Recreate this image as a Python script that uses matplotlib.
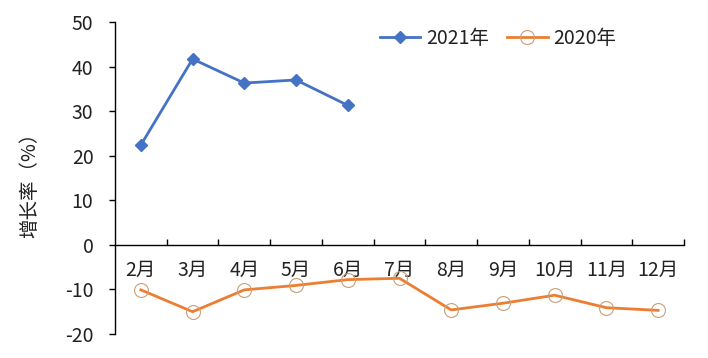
import matplotlib
matplotlib.use("Agg")
import matplotlib.pyplot as plt
import numpy as np

plt.rcParams['font.family'] = ['Noto Sans CJK SC', 'DejaVu Sans']

months = ['2月', '3月', '4月', '5月', '6月', '7月', '8月', '9月', '10月', '11月', '12月']
growth_2021 = [22.4, 41.7, 36.3, 37.0, 31.3]
growth_2020 = [-10.1, -15.0, -10.1, -9.1, -7.8, -7.5, -14.6, -13.1, -11.3, -14.1, -14.7]
yticks = [-20, -10, 0, 10, 20, 30, 40, 50]
ytick_labels = ['-20', '-10', '0', '10', '20', '30', '40', '50']
series_labels = ['2021年', '2020年']
ylabel = '增长率（%）'

blue = '#4472C4'
orange = '#ED7D31'
fs = 14
tc = '#222222'

fig = plt.figure(figsize=(7.08, 3.58), dpi=100)
W, H = 708, 358
ax = fig.add_axes([115 / W, 1 - 334 / H, (684 - 115) / W, (334 - 22) / H])

x = np.arange(len(months))
ax.plot(x[:len(growth_2021)], growth_2021, color=blue, lw=2.0, marker='D',
        markersize=6.5, markerfacecolor=blue, markeredgecolor=blue,
        label=series_labels[0], zorder=3)
ax.plot(x, growth_2020, color=orange, lw=2.0, marker='o', markersize=10,
        markerfacecolor='none', markeredgecolor='#C8A07A', markeredgewidth=0.8,
        label=series_labels[1], zorder=3)

ax.set_xlim(-0.5, len(months) - 0.5)
ax.set_ylim(-20, 50)
ax.set_yticks(yticks)
ax.set_yticklabels(ytick_labels)

for s in ['top', 'right']:
    ax.spines[s].set_visible(False)
ax.spines['bottom'].set_position(('data', 0))
ax.spines['bottom'].set_color('black')
ax.spines['left'].set_color('black')
ax.spines['bottom'].set_linewidth(1.0)
ax.spines['left'].set_linewidth(1.0)

ax.set_xticks(np.arange(0.5, len(months), 1.0))
ax.set_xticklabels([])
ax.set_xticks(x, minor=True)
ax.set_xticklabels(months, minor=True)
ax.tick_params(axis='x', which='major', direction='in', length=4, width=1.0)
ax.tick_params(axis='x', which='minor', length=0, pad=11, labelsize=fs, colors=tc)
ax.tick_params(axis='y', direction='out', length=4.5, width=1.0, pad=11,
               labelsize=fs, labelcolor=tc)

ax.set_ylabel(ylabel, fontsize=fs, color=tc)
ax.yaxis.set_label_coords(-0.132, 0.494)

leg = fig.legend(loc='center', bbox_to_anchor=(498 / W, 1 - 38 / H), ncol=2,
                 frameon=False, fontsize=fs, handlelength=2.1,
                 columnspacing=0.9, handletextpad=0.3)
for t in leg.get_texts():
    t.set_color(tc)

fig.savefig('out.png', dpi=100)
